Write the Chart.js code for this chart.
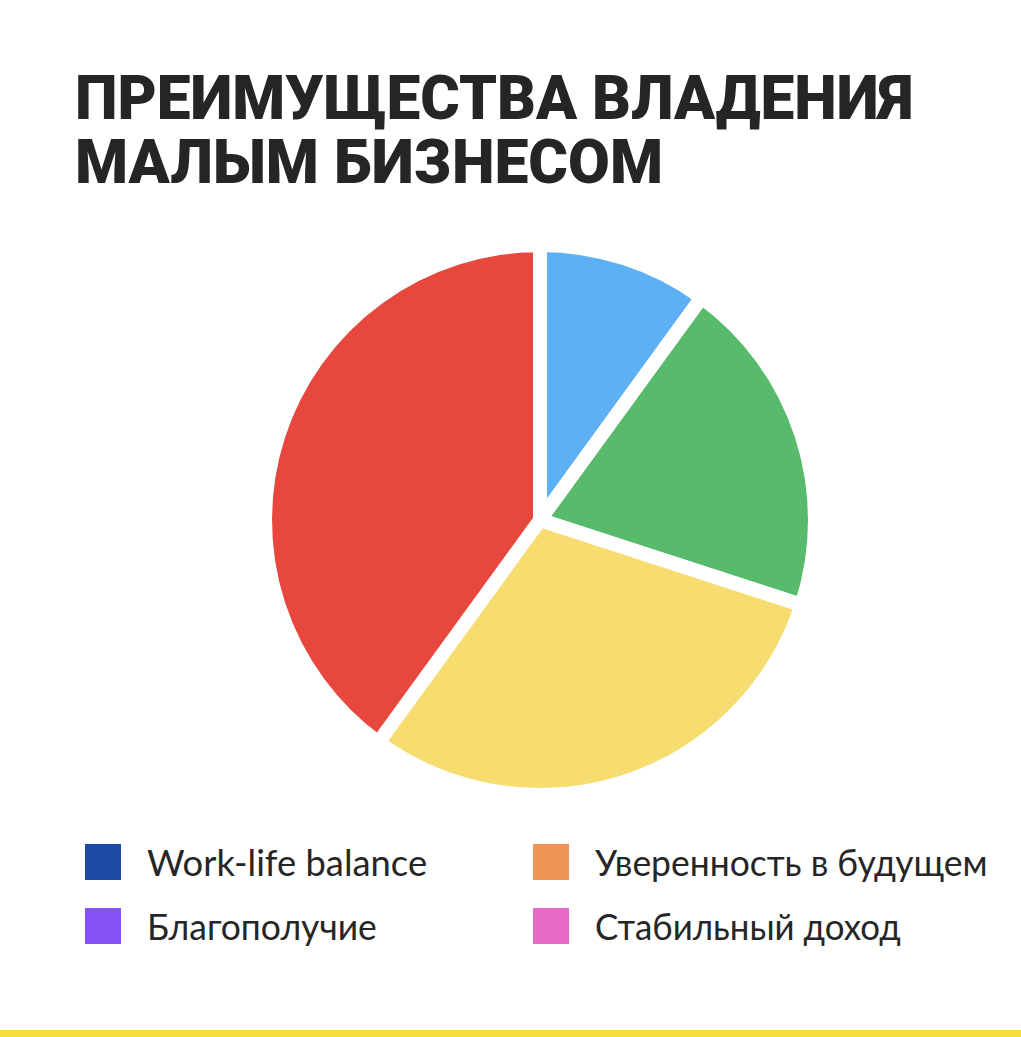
<!DOCTYPE html>
<html lang="ru">
<head>
<meta charset="utf-8">
<script src="https://cdn.jsdelivr.net/npm/chart.js@4.4.1/dist/chart.umd.min.js"></script>
<style>
  html, body { margin: 0; padding: 0; background: #ffffff; }
  body { width: 1021px; height: 1037px; position: relative; overflow: hidden; }
  .title { position: absolute; left: 75px; font-family: "Roboto", sans-serif; font-weight: 900;
           font-size: 61px; color: #252525; white-space: nowrap; line-height: 1; transform-origin: 0 0; }
  #chartBox { position: absolute; left: 230px; top: 210px; width: 620px; height: 620px; }
  .lg-item { position: absolute; height: 36px; display: flex; align-items: center; }
  .lg-box { width: 36px; height: 36px; flex: none; }
  .lg-text { position: absolute; font-family: "Lato", sans-serif; font-size: 37px; color: #262626;
             white-space: nowrap; transform-origin: 0 50%; line-height: 36px; top: 0; }
  #bar { position: absolute; left: 0; top: 1030px; width: 1021px; height: 7px; background: #f6dc3c; }
</style>
</head>
<body>
<div class="title" id="t1"></div>
<div class="title" id="t2"></div>
<div id="chartBox"><canvas id="c"></canvas></div>
<div id="legend"></div>
<div id="bar"></div>
<script>
// ---- data ----
const titleLines = ["ПРЕИМУЩЕСТВА ВЛАДЕНИЯ", "МАЛЫМ БИЗНЕСОМ"];
const sliceLabels = ["Синий", "Зелёный", "Жёлтый", "Красный"];
const sliceValues = [10, 20, 30, 40];
const sliceColors = ["#5eb0f5", "#58bb6b", "#f7dd70", "#e8473d"];
const legendLabels = ["Work-life balance", "Уверенность в будущем", "Благополучие", "Стабильный доход"];
const legendColors = ["#1e4aa6", "#ef9556", "#8452f2", "#e96bc5"];

// ---- title ----
const tEls = [document.getElementById('t1'), document.getElementById('t2')];
const tTops = [68, 132];
const tWidths = [838, 588];
tEls.forEach((el, i) => {
  el.textContent = titleLines[i];
  el.style.top = tTops[i] + 'px';
});

// ---- legend (2 x 2 grid) ----
const legend = document.getElementById('legend');
const colX = [85, 533];
const rowY = [844, 908];
const textWidths = [280, 393, 230, 306];
legendLabels.forEach((lab, i) => {
  const col = i % 2 === 0 ? 0 : 1;
  const row = i < 2 ? 0 : 1;
  const item = document.createElement('div');
  item.className = 'lg-item';
  item.style.left = colX[col] + 'px';
  item.style.top = rowY[row] + 'px';
  const box = document.createElement('div');
  box.className = 'lg-box';
  box.style.background = legendColors[i];
  const txt = document.createElement('div');
  txt.className = 'lg-text';
  txt.style.left = '62px';
  txt.textContent = lab;
  txt.dataset.w = textWidths[i];
  item.appendChild(box);
  item.appendChild(txt);
  legend.appendChild(item);
});

function fitTexts() {
  tEls.forEach((el, i) => {
    el.style.transform = 'none';
    const w = el.getBoundingClientRect().width;
    el.style.transform = 'scaleX(' + (tWidths[i] / w) + ')';
  });
  document.querySelectorAll('.lg-text').forEach(el => {
    const w = el.scrollWidth;
    el.style.transform = 'scaleX(' + (Number(el.dataset.w) / w) + ')';
  });
}
fitTexts();
if (document.fonts && document.fonts.ready) { document.fonts.ready.then(fitTexts); }

// ---- chart ----
new Chart(document.getElementById('c'), {
  type: 'pie',
  data: {
    labels: sliceLabels,
    datasets: [{
      data: sliceValues,
      backgroundColor: sliceColors,
      borderColor: '#ffffff',
      borderWidth: 14,
      hoverOffset: 0
    }]
  },
  options: {
    responsive: true,
    maintainAspectRatio: false,
    animation: false,
    radius: 275,
    layout: { padding: 0 },
    plugins: {
      legend: { display: false },
      tooltip: { enabled: false },
      title: { display: false }
    }
  }
});
</script>
</body>
</html>
